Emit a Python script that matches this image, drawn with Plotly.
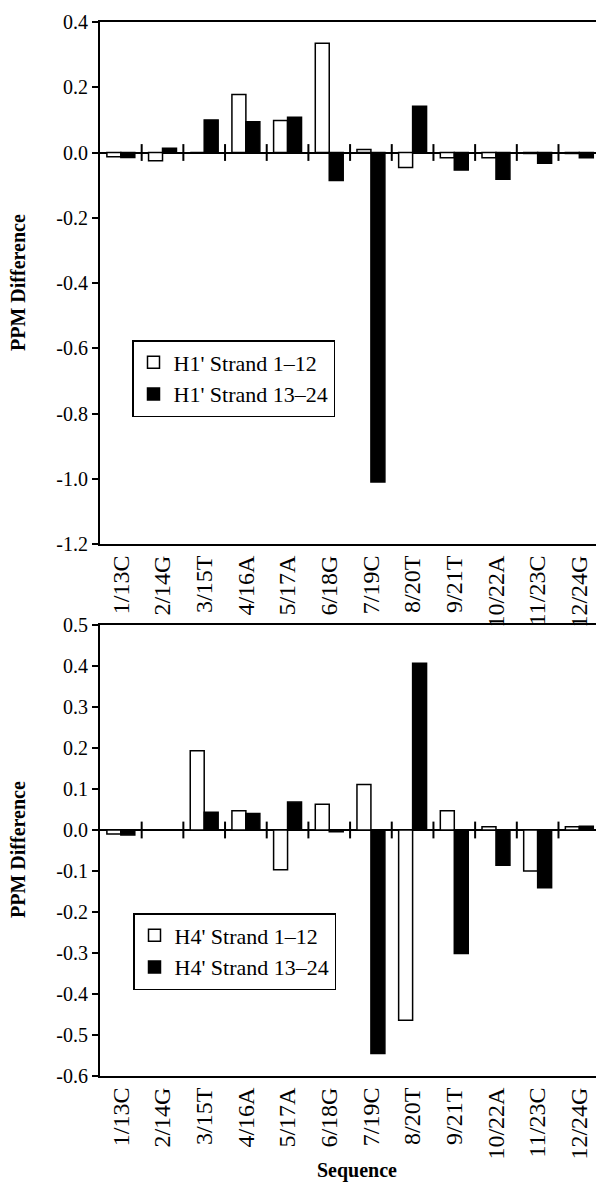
import plotly.graph_objects as go

categories = ["1/13C", "2/14G", "3/15T", "4/16A", "5/17A", "6/18G",
              "7/19C", "8/20T", "9/21T", "10/22A", "11/23C", "12/24G"]

h1_strand_1_12 = [-0.013, -0.025, 0.0, 0.178, 0.098, 0.335, 0.009, -0.046, -0.016, -0.016, -0.003, -0.003]
h1_strand_13_24 = [-0.015, 0.013, 0.100, 0.094, 0.108, -0.086, -1.01, 0.142, -0.054, -0.082, -0.033, -0.016]

h4_strand_1_12 = [-0.010, 0.0, 0.193, 0.047, -0.097, 0.063, 0.111, -0.464, 0.047, 0.008, -0.100, 0.008]
h4_strand_13_24 = [-0.012, 0.0, 0.043, 0.040, 0.068, -0.004, -0.545, 0.407, -0.301, -0.086, -0.141, 0.009]

top_ticks = [0.4, 0.2, 0.0, -0.2, -0.4, -0.6, -0.8, -1.0, -1.2]
bottom_ticks = [0.5, 0.4, 0.3, 0.2, 0.1, 0.0, -0.1, -0.2, -0.3, -0.4, -0.5, -0.6]

W, H = 596, 1182
FONT = "Liberation Serif"
xpos = list(range(len(categories)))
bounds = [i + 0.5 for i in xpos[:-1]]

fig = go.Figure()

def add_panel(white, black, names, xa, ya, legend):
    fig.add_trace(go.Bar(x=xpos, y=white, name=names[0], xaxis=xa, yaxis=ya,
                         marker=dict(color="white", line=dict(color="black", width=1.5)),
                         legend=legend))
    fig.add_trace(go.Bar(x=xpos, y=black, name=names[1], xaxis=xa, yaxis=ya,
                         marker=dict(color="black", line=dict(color="black", width=1.5)),
                         legend=legend))
    fig.add_trace(go.Scatter(x=bounds, y=[0] * len(bounds), mode="markers", xaxis=xa, yaxis=ya,
                             marker=dict(symbol="line-ns", size=12, line=dict(color="black", width=2)),
                             showlegend=False, hoverinfo="skip"))

add_panel(h1_strand_1_12, h1_strand_13_24, ["H1' Strand 1\u201312", "H1' Strand 13\u201324"], "x", "y", "legend")
add_panel(h4_strand_1_12, h4_strand_13_24, ["H4' Strand 1\u201312", "H4' Strand 13\u201324"], "x2", "y2", "legend2")

x0 = 100 / W
top_dom = [1 - 544 / H, 1 - 22 / H]
bot_dom = [1 - 1076 / H, 1 - 625 / H]

xcommon = dict(range=[-0.5, 11.4], tickvals=xpos, ticktext=categories, tickangle=-90,
               showline=True, linecolor="black", linewidth=2, mirror=True, ticks="",
               showgrid=False, zeroline=False, automargin=False,
               tickfont=dict(family=FONT, size=24, color="black"), domain=[x0, 1])
ycommon = dict(showline=True, linecolor="black", linewidth=2, ticks="outside", ticklen=6,
               tickwidth=1.5, tickcolor="black", showgrid=False, zeroline=True,
               zerolinecolor="black", zerolinewidth=1.5, automargin=False,
               tickfont=dict(family=FONT, size=20, color="black"))

legend_style = dict(bgcolor="white", bordercolor="black", borderwidth=1.5,
                    font=dict(family=FONT, size=22, color="black"),
                    xanchor="left", yanchor="top", tracegroupgap=0, itemwidth=30)

fig.update_layout(
    width=W, height=H, margin=dict(l=0, r=0, t=0, b=0),
    plot_bgcolor="white", paper_bgcolor="white",
    barmode="group", bargap=0.33, bargroupgap=0.0,
    xaxis=dict(**xcommon, anchor="y"),
    yaxis=dict(**ycommon, range=[-1.2, 0.4], tickvals=top_ticks,
               ticktext=[f"{v:.1f}" for v in top_ticks], domain=top_dom, anchor="x"),
    xaxis2=dict(**xcommon, anchor="y2"),
    yaxis2=dict(**ycommon, range=[-0.6, 0.5], tickvals=bottom_ticks,
                ticktext=[f"{v:.1f}" for v in bottom_ticks], domain=bot_dom, anchor="x2"),
    legend=dict(**legend_style, x=132 / W, y=1 - 340 / H),
    legend2=dict(**legend_style, x=133 / W, y=1 - 913 / H),
    annotations=[
        dict(text="<b>PPM Difference</b>", xref="paper", yref="paper", x=18 / W,
             y=1 - 283 / H, textangle=-90, showarrow=False, xanchor="center", yanchor="middle",
             font=dict(family=FONT, size=20, color="black")),
        dict(text="<b>PPM Difference</b>", xref="paper", yref="paper", x=18 / W,
             y=1 - 850 / H, textangle=-90, showarrow=False, xanchor="center", yanchor="middle",
             font=dict(family=FONT, size=20, color="black")),
        dict(text="<b>Sequence</b>", xref="paper", yref="paper", x=357 / W,
             y=1 - 1170 / H, showarrow=False, xanchor="center", yanchor="middle",
             font=dict(family=FONT, size=20, color="black")),
    ],
)

fig.write_html("out.html", config={"displayModeBar": False},
               post_script="document.body.style.margin='0';document.body.style.padding='0';")
